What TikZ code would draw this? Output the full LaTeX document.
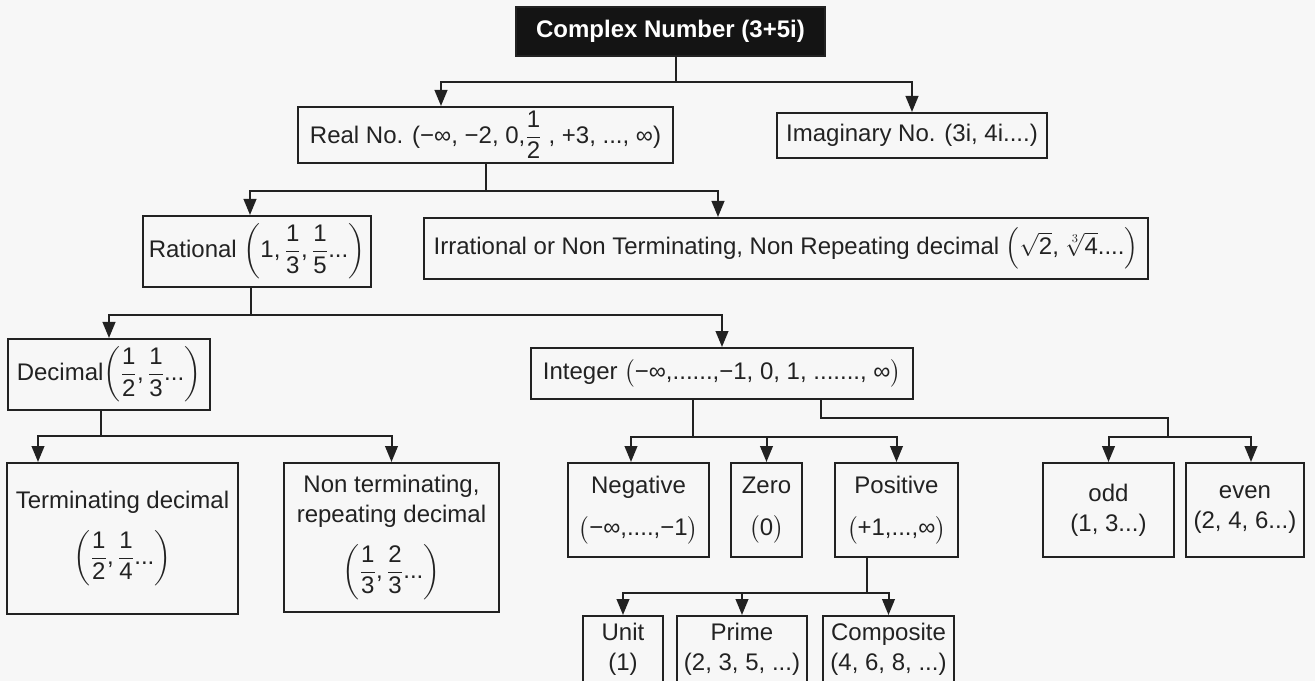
\documentclass[tikz,border=0pt]{standalone}
\usepackage{amsmath}
\usepackage{fontspec}
\setmainfont{Liberation Sans}
\usetikzlibrary{arrows.meta,calc}
\definecolor{bgc}{HTML}{F7F7F7}
\definecolor{ink}{HTML}{222222}
\newcommand{\nfrac}[2]{\dfrac{\text{#1}}{\text{#2}}}
\begin{document}
\begin{tikzpicture}[x=0.75pt,y=-0.75pt,
  box/.style={draw=ink,line width=1.5pt,fill=bgc,text=ink,align=center,inner sep=0pt,font=\fontsize{18}{22.5}\selectfont},
  wh/.style 2 args={minimum width=#1*0.75pt,minimum height=#2*0.75pt},
  link/.style={draw=ink,line width=1.5pt},
  arr/.style={link,-{Triangle[length=12pt,width=9.5pt]}}]
\useasboundingbox (0,0) rectangle (1315,681);
\clip (0,0) rectangle (1315,681);
\fill[bgc] (0,0) rectangle (1315,681);

% boxes
\node[box,fill=black!92,text=white,font=\bfseries\fontsize{18}{22}\selectfont,wh={309}{49}] (cn) at (670.5,31.5) {Complex Number (3+5i)};
\node[box,wh={375}{56}] (real) at (485.5,135) {Real No. (−∞, −2, 0,$\nfrac{1}{2}$ , +3, ..., ∞)};
\node[box,wh={270}{45}] (imag) at (912,135.5) {Imaginary No. (3i, 4i....)};
\node[box,wh={228}{71}] (rat) at (257,251.5) {Rational $\left(\text{1,\,}\nfrac{1}{3}\text{,\,}\nfrac{1}{5}\text{...}\right)$};
\node[box,wh={724}{61}] (irr) at (786,248.5) {Irrational or Non Terminating, Non Repeating decimal $\left(\sqrt{\text{2}}\text{, }\sqrt[3]{\text{4}}\text{....}\right)$};
\node[box,wh={202}{71}] (dec) at (109,374.5) {Decimal$\left(\nfrac{1}{2}\text{,\,}\nfrac{1}{3}\text{...}\right)$};
\node[box,wh={382}{51}] (int) at (722,373.5) {Integer $\bigl($−∞,......,−1, 0, 1, ......., ∞$\bigr)$};

\node[box,wh={231}{151}] (term) at (122.5,538.5) {Terminating decimal\\[12pt] $\left(\nfrac{1}{2}\text{,\,}\nfrac{1}{4}\text{...}\right)$};
\node[box,wh={215}{149}] (nonterm) at (391.5,537.5) {Non terminating,\\ repeating decimal\\[12pt] $\left(\nfrac{1}{3}\text{,\,}\nfrac{2}{3}\text{...}\right)$};
\node[box,wh={141}{94}] (neg) at (638.5,510) {Negative\\[9pt] $\bigl($−∞,....,−1$\bigr)$};
\node[box,wh={71}{94}] (zero) at (766.5,510) {Zero\\[9pt] $\bigl($0$\bigr)$};
\node[box,wh={123}{94}] (pos) at (896.5,510) {Positive\\[9pt] $\bigl($+1,...,∞$\bigr)$};
\node[box,wh={131}{94}] (odd) at (1108.5,510) {odd\\ (1, 3...)};
\node[box,wh={118}{94}] (even) at (1245,510) {even\\ (2, 4, 6...)};
\node[box,wh={80}{66}] (unit) at (623,649) {Unit\\ (1)};
\node[box,wh={130}{66}] (prime) at (742,649) {Prime\\ (2, 3, 5, ...)};
\node[box,wh={131}{66}] (comp) at (888.5,649) {Composite\\ (4, 6, 8, ...)};

% connectors
\coordinate (j1) at ($(cn.south)+(5.5,25)$);
\draw[link] ($(cn.south)+(5.5,0)$) -- (j1);
\draw[arr] (j1) -| ($(real.north)+(-44.5,0)$);
\draw[arr] (j1) -| (imag);

\coordinate (j2) at ($(real.south)+(0,27)$);
\draw[link] (real.south) -- (j2);
\draw[arr] (j2) -| ($(rat.north)+(-7,0)$);
\draw[arr] (j2) -| ($(irr.north)+(-68,0)$);

\coordinate (j3) at ($(rat.south)+(-6,27)$);
\draw[link] ($(rat.south)+(-6,0)$) -- (j3);
\draw[arr] (j3) -| (dec);
\draw[arr] (j3) -| (int);

\coordinate (j4) at ($(dec.south)+(-8,25)$);
\draw[link] ($(dec.south)+(-8,0)$) -- (j4);
\draw[arr] (j4) -| ($(term.north)+(-84.5,0)$);
\draw[arr] (j4) -| (nonterm);

\coordinate (j5) at ($(int.south)+(-29,37)$);
\draw[link] ($(int.south)+(-29,0)$) -- (j5);
\draw[arr] (j5) -| ($(neg.north)+(-7.5,0)$);
\draw[arr] (j5) -| (zero);
\draw[arr] (j5) -| (pos);

\coordinate (j6) at ($(int.south)+(99,18)$);
\coordinate (j7) at ($(j6)+(347,19)$);
\draw[link] ($(int.south)+(99,0)$) -- (j6) -| (j7);
\draw[arr] (j7) -| (odd);
\draw[arr] (j7) -| ($(even.north)+(6,0)$);

\coordinate (j8) at ($(pos.south)+(-29.5,35)$);
\draw[link] ($(pos.south)+(-29.5,0)$) -- (j8);
\draw[arr] (j8) -| (unit);
\draw[arr] (j8) -| (prime);
\draw[arr] (j8) -| (comp);
\end{tikzpicture}
\end{document}
